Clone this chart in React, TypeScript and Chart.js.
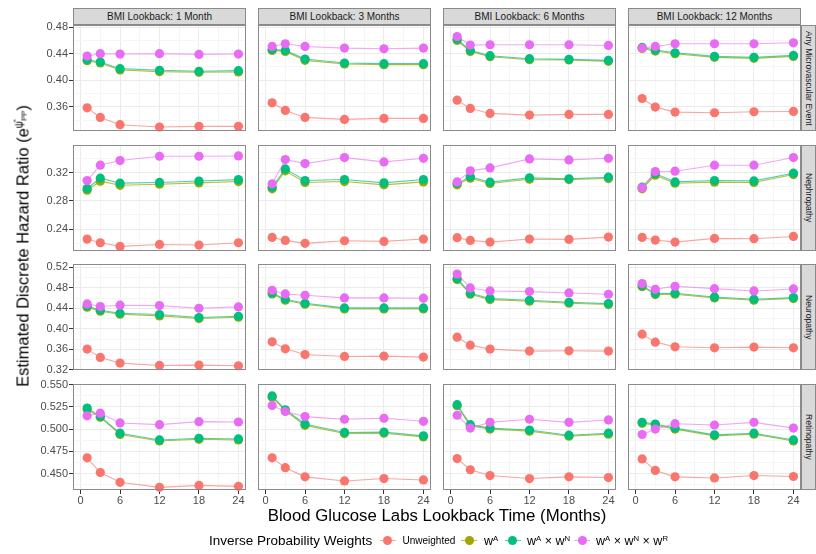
import React, { useEffect, useRef } from "react";
import { Chart, registerables } from "chart.js";
Chart.register(...registerables);

// ---------- data ----------
const lookbackMonths = [1, 3, 6, 12, 18, 24];
const bmiLookbacks = [
  "BMI Lookback: 1 Month",
  "BMI Lookback: 3 Months",
  "BMI Lookback: 6 Months",
  "BMI Lookback: 12 Months",
];
const outcomes = ["Any Microvascular Event", "Nephropathy", "Neuropathy", "Retinopathy"];
const xTickLabels = [0, 6, 12, 18, 24];
const xMinorTicks = [3, 9, 15, 21];

// y tick labels per outcome row
const yTicksMicro = [0.36, 0.4, 0.44, 0.48];
const yTicksNephro = [0.24, 0.28, 0.32];
const yTicksNeuro = [0.32, 0.36, 0.4, 0.44, 0.48, 0.52];
const yTicksRetino = [0.45, 0.475, 0.5, 0.525, 0.55];

// values: [BMI 1m, BMI 3m, BMI 6m, BMI 12m] x lookback months
const microUnweighted = [
  [0.3585, 0.344, 0.333, 0.3295, 0.3305, 0.3305],
  [0.366, 0.3545, 0.344, 0.341, 0.3425, 0.3425],
  [0.37, 0.3575, 0.35, 0.3475, 0.3485, 0.3485],
  [0.3725, 0.3595, 0.352, 0.351, 0.3525, 0.353],
];
const microWA = [
  [0.4295, 0.426, 0.4155, 0.413, 0.412, 0.4125],
  [0.445, 0.4435, 0.43, 0.4245, 0.4235, 0.4235],
  [0.46, 0.4435, 0.4355, 0.431, 0.4305, 0.4285],
  [0.448, 0.444, 0.44, 0.4345, 0.433, 0.436],
];
const microWAN = [
  [0.431, 0.4275, 0.4175, 0.415, 0.4135, 0.4145],
  [0.4465, 0.445, 0.432, 0.426, 0.425, 0.425],
  [0.462, 0.445, 0.437, 0.4325, 0.4315, 0.43],
  [0.4495, 0.4455, 0.4415, 0.436, 0.4345, 0.4375],
];
const microWANR = [
  [0.4365, 0.44, 0.4395, 0.44, 0.439, 0.4395],
  [0.451, 0.455, 0.451, 0.4485, 0.4475, 0.4485],
  [0.466, 0.453, 0.4535, 0.4535, 0.4535, 0.4525],
  [0.4485, 0.451, 0.455, 0.455, 0.455, 0.4565],
];

const nephroUnweighted = [
  [0.2259, 0.2207, 0.2155, 0.2183, 0.2174, 0.2207],
  [0.2282, 0.224, 0.2198, 0.2235, 0.2226, 0.2259],
  [0.2278, 0.224, 0.2216, 0.2259, 0.2254, 0.2287],
  [0.2282, 0.2245, 0.2216, 0.2268, 0.2264, 0.2296],
];
const nephroWA = [
  [0.295, 0.3078, 0.302, 0.3035, 0.3054, 0.3073],
  [0.297, 0.3224, 0.3059, 0.3073, 0.3026, 0.3068],
  [0.3026, 0.312, 0.3045, 0.3106, 0.3101, 0.3115],
  [0.297, 0.3162, 0.3049, 0.3064, 0.3059, 0.3172],
];
const nephroWAN = [
  [0.2974, 0.312, 0.305, 0.306, 0.308, 0.31],
  [0.2993, 0.3252, 0.3087, 0.3101, 0.3054, 0.3101],
  [0.3045, 0.3139, 0.3064, 0.3125, 0.3111, 0.3134],
  [0.2993, 0.3186, 0.3068, 0.3087, 0.3082, 0.3191],
];
const nephroWANR = [
  [0.3087, 0.3304, 0.337, 0.3431, 0.3431, 0.3435],
  [0.304, 0.3384, 0.3327, 0.3412, 0.3351, 0.3402],
  [0.3068, 0.3224, 0.3266, 0.3393, 0.3379, 0.3402],
  [0.2984, 0.3214, 0.3219, 0.3304, 0.3304, 0.3412],
];

const neuroUnweighted = [
  [0.3603, 0.344, 0.333, 0.3284, 0.3291, 0.3278],
  [0.3745, 0.3609, 0.3497, 0.346, 0.3466, 0.3447],
  [0.3836, 0.368, 0.3603, 0.3564, 0.357, 0.3564],
  [0.3895, 0.3739, 0.3648, 0.3629, 0.3642, 0.3629],
];
const neuroWA = [
  [0.4421, 0.4343, 0.4284, 0.4252, 0.42, 0.4226],
  [0.468, 0.4557, 0.4479, 0.4388, 0.4388, 0.4388],
  [0.496, 0.4674, 0.457, 0.4538, 0.4499, 0.4473],
  [0.4823, 0.4668, 0.4674, 0.4603, 0.4557, 0.459],
];
const neuroWAN = [
  [0.4447, 0.4362, 0.4304, 0.4278, 0.422, 0.4245],
  [0.47, 0.4577, 0.4499, 0.4408, 0.4408, 0.4408],
  [0.4979, 0.4694, 0.459, 0.4557, 0.4518, 0.4492],
  [0.4843, 0.4687, 0.4694, 0.4622, 0.4577, 0.4609],
];
const neuroWANR = [
  [0.4486, 0.4434, 0.446, 0.4453, 0.4401, 0.4427],
  [0.4752, 0.468, 0.4655, 0.4603, 0.4603, 0.4597],
  [0.507, 0.4797, 0.4739, 0.4726, 0.47, 0.4674],
  [0.4882, 0.4771, 0.483, 0.4784, 0.4739, 0.4778],
];

const retinoUnweighted = [
  [0.4676, 0.4511, 0.4401, 0.4344, 0.4366, 0.4355],
  [0.4676, 0.4565, 0.4462, 0.4416, 0.4443, 0.4427],
  [0.4668, 0.4542, 0.4477, 0.4443, 0.4462, 0.4454],
  [0.4664, 0.4534, 0.4462, 0.445, 0.4477, 0.4466],
];
const retinoWA = [
  [0.5221, 0.5134, 0.4939, 0.4866, 0.4885, 0.4878],
  [0.5359, 0.5206, 0.5042, 0.495, 0.4954, 0.4912],
  [0.5263, 0.5038, 0.5, 0.4977, 0.492, 0.4943],
  [0.5065, 0.5046, 0.5, 0.4924, 0.4943, 0.4866],
];
const retinoWAN = [
  [0.5237, 0.5141, 0.4954, 0.4878, 0.4897, 0.4889],
  [0.5374, 0.5218, 0.5057, 0.4962, 0.4966, 0.4924],
  [0.5275, 0.505, 0.5011, 0.4989, 0.4931, 0.4954],
  [0.5076, 0.5057, 0.5011, 0.4935, 0.4954, 0.4878],
];
const retinoWANR = [
  [0.5149, 0.5179, 0.5069, 0.505, 0.5084, 0.508],
  [0.5267, 0.5198, 0.5141, 0.5111, 0.5122, 0.5088],
  [0.5156, 0.5011, 0.5076, 0.5111, 0.5076, 0.5103],
  [0.4939, 0.5, 0.5061, 0.5046, 0.5076, 0.5011],
];

// ---------- structure / style ----------
const rows = [
  { ticks: yTicksMicro, min: 0.3235, max: 0.4833, step: 0.02, digits: 2, data: [microUnweighted, microWA, microWAN, microWANR] },
  { ticks: yTicksNephro, min: 0.209, max: 0.359, step: 0.02, digits: 2, data: [nephroUnweighted, nephroWA, nephroWAN, nephroWANR] },
  { ticks: yTicksNeuro, min: 0.3195, max: 0.5265, step: 0.02, digits: 2, data: [neuroUnweighted, neuroWA, neuroWAN, neuroWANR] },
  { ticks: yTicksRetino, min: 0.4314, max: 0.5508, step: 0.0125, digits: 3, data: [retinoUnweighted, retinoWA, retinoWAN, retinoWANR] },
];

const seriesColors = ["#F8766D", "#A3A500", "#00BF7D", "#E76BF3"];
const seriesLineColors = ["rgba(248,118,109,0.65)", "rgba(163,165,0,0.75)", "rgba(0,191,125,0.7)", "rgba(231,107,243,0.6)"];
const seriesOrder = [3, 2, 1, 0];

const FONT = '"Liberation Sans", Arial, Helvetica, sans-serif';
const panelLeft = [73, 258, 443, 628];
const panelTop = [25, 145, 264, 384];
const PW = 173;
const PH = 106;
const BORDER = "#8A8A8A";
const X_MIN = -1.15;
const X_MAX = 25.15;

const near = (a: number, b: number) => Math.abs(a - b) < 1e-6;

const zeroPadding = (s: any) => {
  s.paddingLeft = 0;
  s.paddingRight = 0;
  s.paddingTop = 0;
  s.paddingBottom = 0;
};

const borderPlugin = {
  id: "panelBorder",
  afterDatasetsDraw(chart: any) {
    const { ctx, chartArea: a } = chart;
    ctx.save();
    ctx.strokeStyle = BORDER;
    ctx.lineWidth = 1;
    ctx.strokeRect(a.left + 0.5, a.top + 0.5, a.right - a.left - 1, a.bottom - a.top - 1);
    ctx.restore();
  },
};

function Panel({ r, c }: { r: number; c: number }) {
  const ref = useRef<HTMLCanvasElement | null>(null);
  const extraL = c === 0 ? panelLeft[0] : 0;
  const extraT = c === 0 ? 8 : 0;
  const extraB = r === 3 ? 24 : 0;
  const padB = c === 0 && r !== 3 ? 8 : 0;
  const width = PW + extraL;
  const height = PH + extraT + extraB + padB;

  useEffect(() => {
    const row = rows[r];
    const yGrid: number[] = [];
    for (let v = Math.ceil(row.min / row.step - 1e-9) * row.step; v <= row.max + 1e-9; v += row.step) {
      yGrid.push(Math.round(v * 100000) / 100000);
    }
    const xGrid = [...xTickLabels, ...xMinorTicks].sort((a, b) => a - b);
    const isYMajor = (v: number) => row.ticks.some((t) => near(t, v));
    const isXMajor = (v: number) => xTickLabels.some((t) => near(t, v));

    const chart = new Chart(ref.current as HTMLCanvasElement, {
      type: "line",
      data: {
        datasets: row.data.map((series, i) => ({
          label: String(i),
          data: lookbackMonths.map((x, k) => ({ x, y: series[c][k] })),
          borderColor: seriesLineColors[i],
          backgroundColor: seriesColors[i],
          pointBackgroundColor: seriesColors[i],
          pointBorderColor: seriesColors[i],
          pointBorderWidth: 0,
          pointRadius: 4.6,
          borderWidth: 1.1,
          tension: 0,
          order: seriesOrder[i],
          clip: 6,
        })),
      },
      options: {
        animation: false,
        responsive: false,
        events: [],
        layout: { padding: { top: extraT, bottom: padB, left: 0, right: 0 }, autoPadding: false },
        plugins: { legend: { display: false }, tooltip: { enabled: false } },
        scales: {
          x: {
            type: "linear",
            min: X_MIN,
            max: X_MAX,
            afterBuildTicks: (s: any) => {
              s.ticks = xGrid.map((v) => ({ value: v }));
            },
            afterFit: (s: any) => {
              s.height = extraB;
              zeroPadding(s);
            },
            ticks: {
              display: r === 3,
              autoSkip: false,
              maxRotation: 0,
              padding: 0,
              color: "#4D4D4D",
              font: { family: FONT, size: 11 },
              callback: (v: any) => (isXMajor(Number(v)) ? String(v) : ""),
            },
            grid: {
              color: (ctx: any) => (isXMajor(ctx.tick.value) ? "#EBEBEB" : "#F5F5F5"),
              lineWidth: 1,
              drawTicks: r === 3,
              tickLength: 4,
              tickColor: (ctx: any) => (ctx.tick && isXMajor(ctx.tick.value) ? "#333333" : "rgba(0,0,0,0)"),
            },
            border: { display: false },
          },
          y: {
            type: "linear",
            min: row.min,
            max: row.max,
            afterBuildTicks: (s: any) => {
              s.ticks = yGrid.map((v) => ({ value: v }));
            },
            afterFit: (s: any) => {
              s.width = extraL;
              zeroPadding(s);
            },
            ticks: {
              display: c === 0,
              autoSkip: false,
              padding: 1,
              color: "#4D4D4D",
              font: { family: FONT, size: 11 },
              callback: (v: any) => (isYMajor(Number(v)) ? Number(v).toFixed(row.digits) : ""),
            },
            grid: {
              color: (ctx: any) => (isYMajor(ctx.tick.value) ? "#EBEBEB" : "#F5F5F5"),
              lineWidth: 1,
              drawTicks: c === 0,
              tickLength: 4,
              tickColor: (ctx: any) => (ctx.tick && isYMajor(ctx.tick.value) ? "#333333" : "rgba(0,0,0,0)"),
            },
            border: { display: false },
          },
        },
      } as any,
      plugins: [borderPlugin],
    });
    return () => chart.destroy();
  }, [r, c]);

  return (
    <canvas
      ref={ref}
      width={width}
      height={height}
      style={{
        position: "absolute",
        left: panelLeft[c] - extraL,
        top: panelTop[r] - extraT,
        width,
        height,
      }}
    />
  );
}

function LegendKey({ cx, color, line }: { cx: number; color: string; line: string }) {
  return (
    <div style={{ position: "absolute", left: cx - 9, top: 531, width: 18, height: 18 }}>
      <div style={{ position: "absolute", left: 1, right: 1, top: 8.5, height: 1, background: line }} />
      <div
        style={{
          position: "absolute",
          left: 4.5,
          top: 4.5,
          width: 9,
          height: 9,
          borderRadius: "50%",
          background: color,
        }}
      />
    </div>
  );
}

const supStyle: React.CSSProperties = { fontSize: "0.62em", verticalAlign: "0.55em", lineHeight: 0 };

export default function App() {
  const panels = [];
  for (let r = 0; r < 4; r++) for (let c = 0; c < 4; c++) panels.push(<Panel key={`${r}-${c}`} r={r} c={c} />);

  return (
    <div
      style={{
        position: "absolute",
        left: 0,
        top: 0,
        width: 816,
        height: 554,
        background: "#FFFFFF",
        fontFamily: FONT,
        overflow: "hidden",
      }}
    >
      {panels}
      {bmiLookbacks.map((t, c) => (
        <div
          key={t}
          style={{
            position: "absolute",
            left: panelLeft[c],
            top: 8,
            width: PW,
            height: 17,
            boxSizing: "border-box",
            background: "#D9D9D9",
            border: `1px solid ${BORDER}`,
            color: "#1A1A1A",
            fontSize: 10,
            lineHeight: "15px",
            textAlign: "center",
            whiteSpace: "nowrap",
          }}
        >
          {t}
        </div>
      ))}
      {outcomes.map((t, r) => (
        <div
          key={t}
          style={{
            position: "absolute",
            left: 801,
            top: panelTop[r],
            width: 15,
            height: PH,
            boxSizing: "border-box",
            background: "#D9D9D9",
            border: `1px solid ${BORDER}`,
            color: "#1A1A1A",
            fontSize: 8.6,
            display: "flex",
            alignItems: "center",
            justifyContent: "center",
          }}
        >
          <span style={{ writingMode: "vertical-rl", whiteSpace: "nowrap", lineHeight: "13px" }}>{t}</span>
        </div>
      ))}
      <div
        style={{
          position: "absolute",
          left: 437,
          top: 516,
          transform: "translate(-50%, -50%)",
          fontSize: 16.8,
          whiteSpace: "nowrap",
          color: "#000",
        }}
      >
        Blood Glucose Labs Lookback Time (Months)
      </div>
      <div
        style={{
          position: "absolute",
          left: 23,
          top: 246,
          transform: "translate(-50%, -50%) rotate(-90deg)",
          fontSize: 16.5,
          whiteSpace: "nowrap",
          color: "#000",
        }}
      >
        Estimated Discrete Hazard Ratio (e
        <span style={supStyle}>
          ψ̂<span style={{ fontSize: "0.75em", verticalAlign: "-0.5em" }}>PP</span>
        </span>
        )
      </div>
      <div style={{ position: "absolute", left: 209, top: 540, transform: "translateY(-50%)", fontSize: 13.5, whiteSpace: "nowrap" }}>
        Inverse Probability Weights
      </div>
      <LegendKey cx={387.5} color={seriesColors[0]} line={seriesLineColors[0]} />
      <div style={{ position: "absolute", left: 402.5, top: 540, transform: "translateY(-50%)", fontSize: 10, whiteSpace: "nowrap" }}>
        Unweighted
      </div>
      <LegendKey cx={469} color={seriesColors[1]} line={seriesLineColors[1]} />
      <div style={{ position: "absolute", left: 484, top: 541, transform: "translateY(-50%)", fontSize: 12.5, whiteSpace: "nowrap" }}>
        w<span style={supStyle}>A</span>
      </div>
      <LegendKey cx={512.5} color={seriesColors[2]} line={seriesLineColors[2]} />
      <div style={{ position: "absolute", left: 527, top: 541, transform: "translateY(-50%)", fontSize: 12.5, whiteSpace: "nowrap" }}>
        w<span style={supStyle}>A</span> × w<span style={supStyle}>N</span>
      </div>
      <LegendKey cx={582} color={seriesColors[3]} line={seriesLineColors[3]} />
      <div style={{ position: "absolute", left: 596, top: 541, transform: "translateY(-50%)", fontSize: 12.5, whiteSpace: "nowrap" }}>
        w<span style={supStyle}>A</span> × w<span style={supStyle}>N</span> × w<span style={supStyle}>R</span>
      </div>
    </div>
  );
}
